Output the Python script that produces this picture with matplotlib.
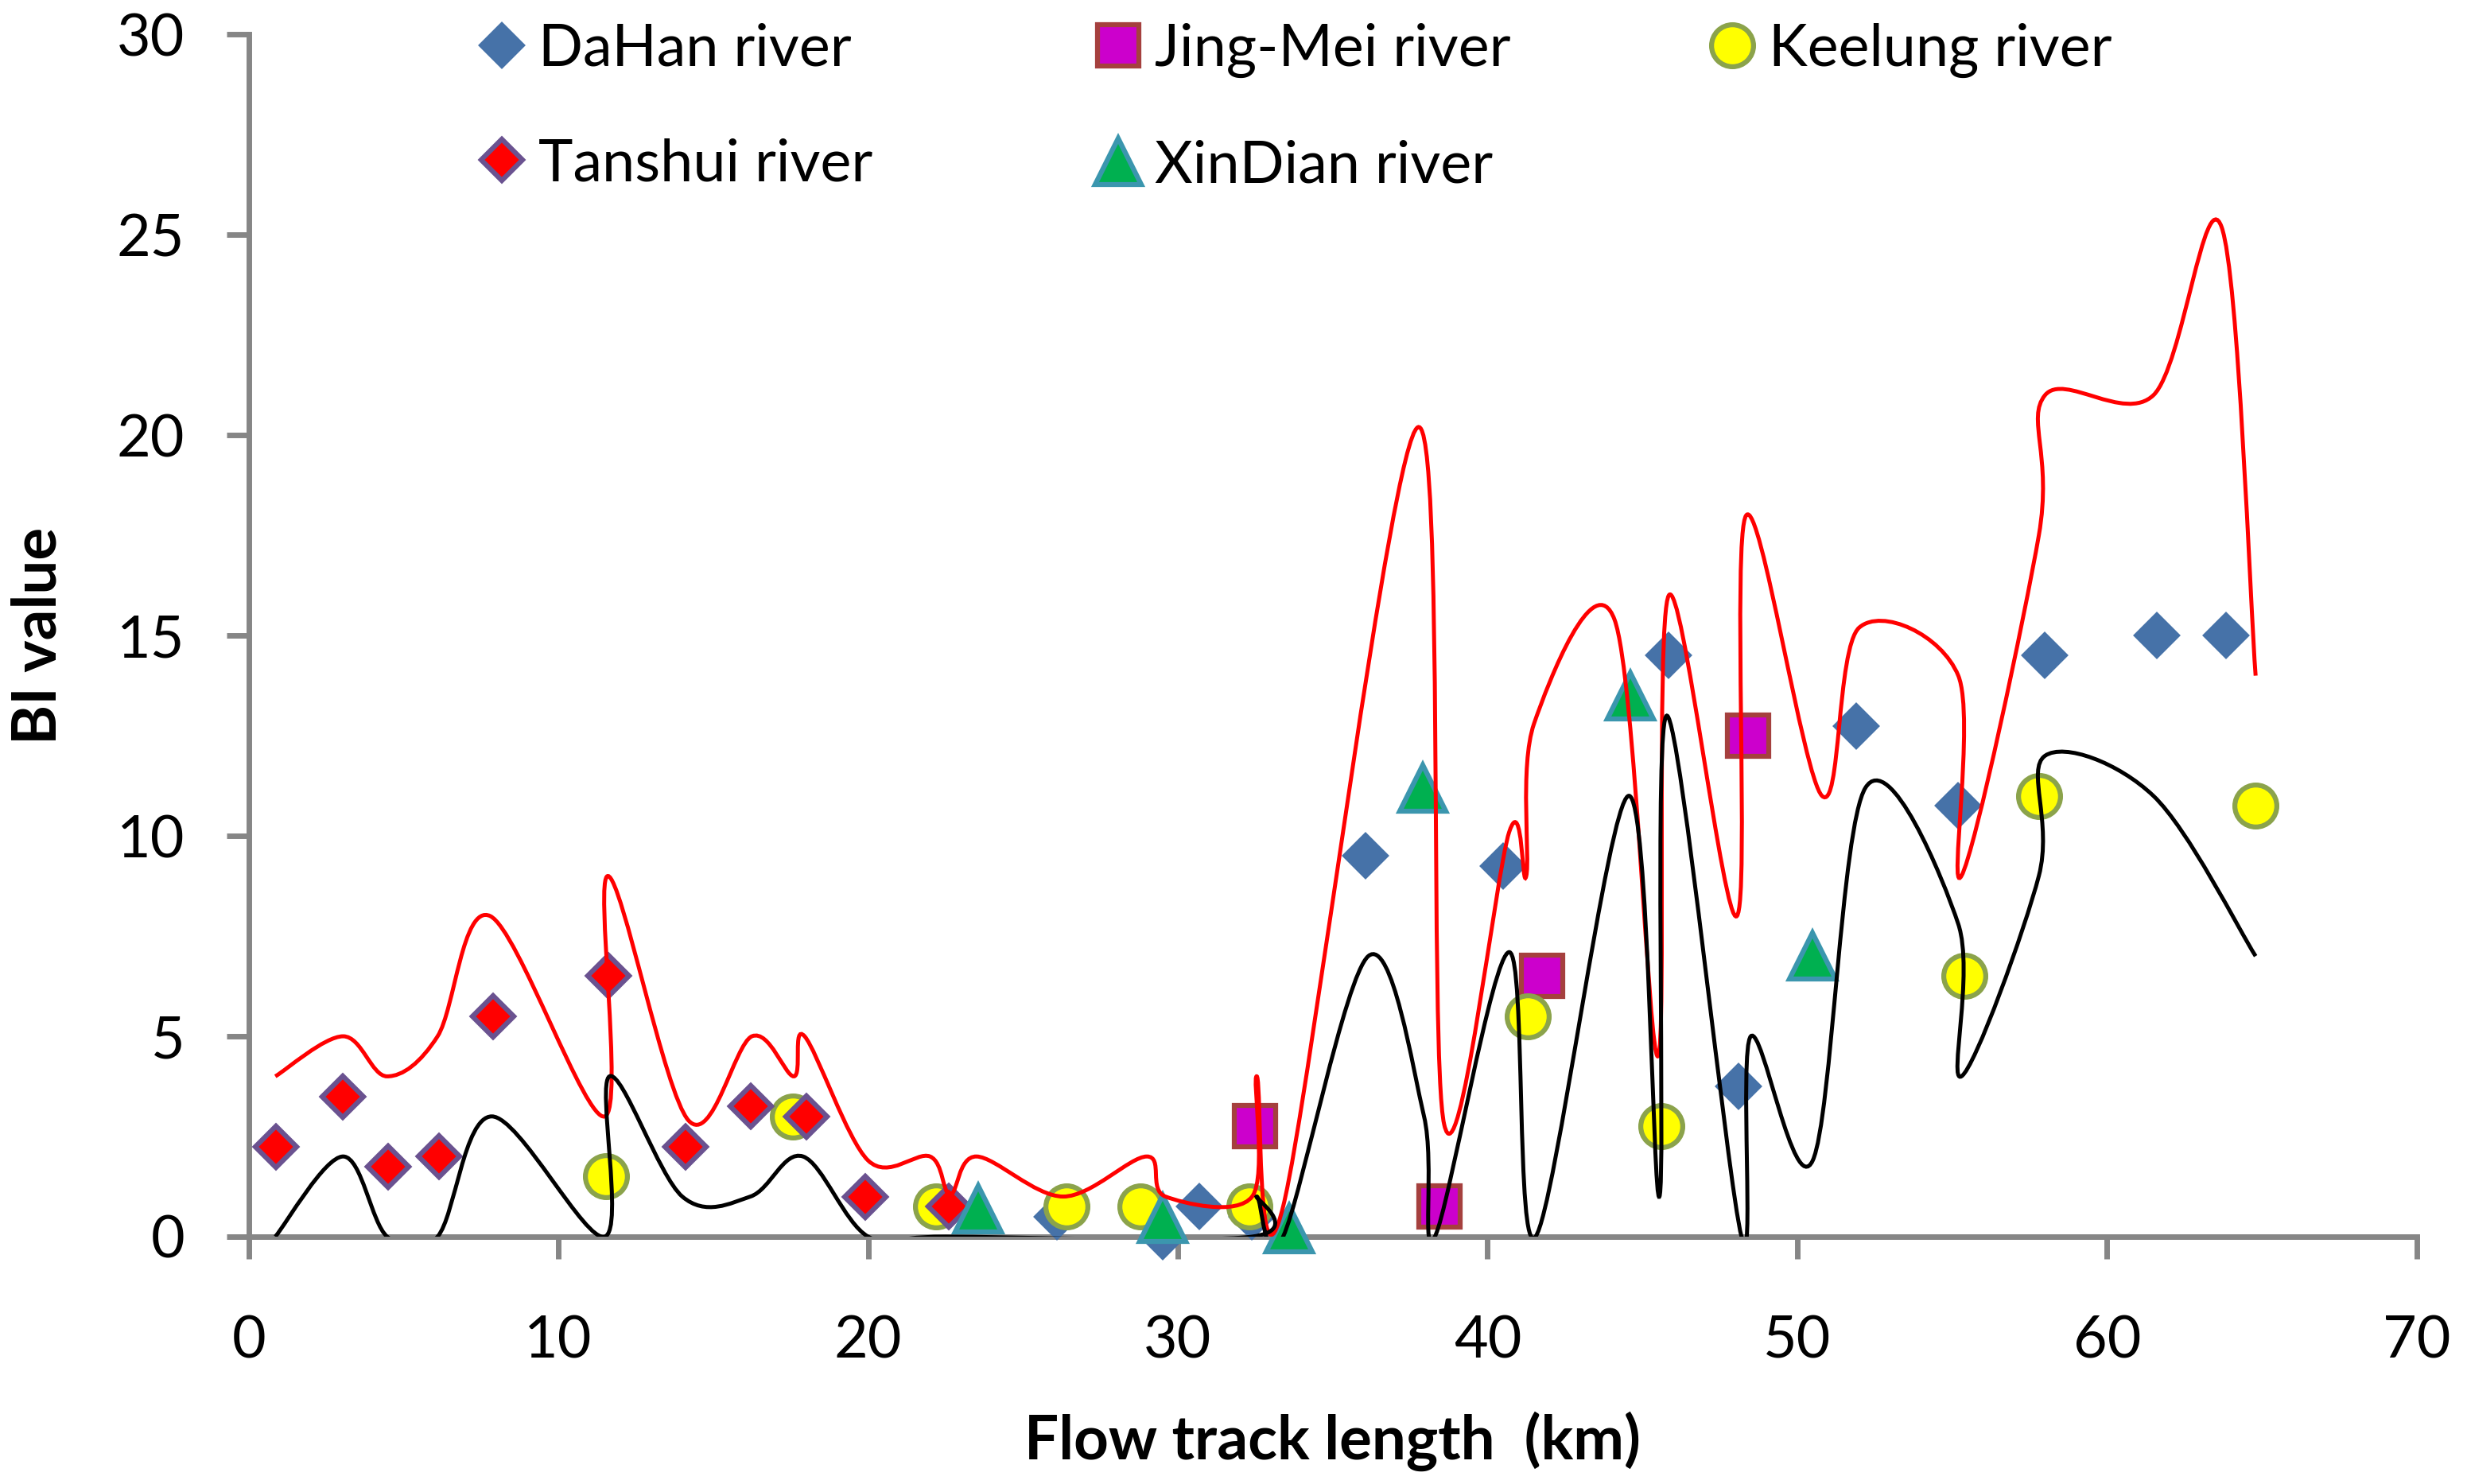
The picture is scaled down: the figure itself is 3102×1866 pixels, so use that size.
import numpy as np
import matplotlib
matplotlib.use('Agg')
from matplotlib import pyplot as plt
from matplotlib.path import Path
from matplotlib.patches import PathPatch

# scatter series (km, BI value)
dahan_x = [26.1, 29.5, 30.7, 32.4, 36.05, 40.5, 45.85, 48.1, 51.9, 55.2, 58.0, 61.6, 63.85]
dahan_y = [0.5, 0.0, 0.75, 0.5, 9.5, 9.25, 14.5, 3.75, 12.75, 10.75, 14.5, 15.0, 15.0]

jingmei_x = [32.5, 38.45, 41.75, 48.4]
jingmei_y = [2.75, 0.75, 6.5, 12.5]

keelung_x = [11.55, 17.57, 22.2, 26.4, 28.8, 32.3, 41.3, 45.6, 55.4, 57.8, 64.8]
keelung_y = [1.5, 3.0, 0.75, 0.75, 0.75, 0.75, 5.5, 2.75, 6.5, 11.0, 10.75]

tanshui_x = [0.87, 3.05, 4.5, 6.15, 7.9, 11.61, 14.1, 16.2, 18.0, 19.9, 22.6]
tanshui_y = [2.25, 3.5, 1.75, 2.0, 5.5, 6.5, 2.25, 3.25, 3.0, 1.0, 0.75]

xindian_x = [23.55, 29.5, 33.6, 37.9, 44.6, 50.5]
xindian_y = [0.7, 0.45, 0.2, 11.2, 13.5, 7.0]

# upper (red) and lower (black) envelope lines, drawn smoothed like Excel
upper_x = [0.86, 3.05, 4.47, 6.1, 7.8, 11.5, 11.6, 14.2, 16.25, 17.6, 17.95, 20.0, 22.0, 22.65,
           23.5, 26.3, 29.0, 29.6, 32.4, 32.55, 33.4, 37.75, 38.6, 40.7, 41.25, 41.5, 44.1,
           45.5, 45.85, 48.05, 48.35, 50.8, 52.0, 55.2, 55.3, 57.8, 58.0, 61.5, 63.7, 64.8]
upper_y = [4.0, 5.0, 4.0, 5.0, 8.0, 3.0, 9.0, 2.9, 5.0, 4.0, 5.0, 1.9, 2.0, 1.05,
           2.0, 1.0, 2.0, 1.0, 1.0, 4.0, 0.75, 20.2, 2.8, 10.1, 9.0, 12.8, 15.4,
           4.5, 16.0, 8.0, 18.0, 11.0, 15.2, 14.0, 9.0, 17.5, 21.0, 21.0, 25.2, 14.0]

lower_x = [0.86, 3.05, 4.47, 6.1, 7.85, 11.5, 11.65, 14.0, 16.2, 17.9, 20.0, 22.5, 32.4, 32.55,
           33.4, 36.15, 37.95, 38.3, 40.7, 41.55, 44.55, 45.55, 45.8, 48.2, 48.5, 50.5, 52.2,
           55.2, 55.3, 57.8, 58.0, 61.5, 64.8]
lower_y = [0.0, 2.0, 0.0, 0.0, 3.0, 0.0, 4.0, 1.0, 1.0, 2.0, 0.0, 0.0, 0.0, 1.0,
           0.0, 7.0, 3.0, 0.0, 7.1, 0.0, 11.0, 1.0, 13.0, 0.0, 5.0, 1.9, 11.2,
           7.8, 4.0, 9.0, 12.0, 11.0, 7.0]


def smooth_path(xs, ys):
    # cubic bezier through the points, control points from neighbours (1/6 rule)
    pts = np.column_stack([xs, ys]).astype(float)
    n = len(pts)
    verts = [pts[0]]
    codes = [Path.MOVETO]
    for i in range(n - 1):
        p0 = pts[max(i - 1, 0)]
        p1 = pts[i]
        p2 = pts[i + 1]
        p3 = pts[min(i + 2, n - 1)]
        verts += [p1 + (p2 - p0) / 6, p2 - (p3 - p1) / 6, p2]
        codes += [Path.CURVE4] * 3
    return Path(verts, codes)


plt.rcParams['font.family'] = ['Lato', 'DejaVu Sans']

fig = plt.figure(figsize=(31.02, 18.66), dpi=100)
ax = fig.add_axes([0.1008, 0.1667, 0.8788, 0.8100])

h1, = ax.plot(dahan_x, dahan_y, 'D', ms=27, mfc='#4672A8', mec='#4672A8', mew=3, label='DaHan river', clip_on=False, zorder=3)
h2, = ax.plot(jingmei_x, jingmei_y, 's', ms=38, mfc='#CC00CC', mec='#A5403E', mew=4.5, label='Jing-Mei river', clip_on=False, zorder=3)
h3, = ax.plot(keelung_x, keelung_y, 'o', ms=38, mfc='#FFFF00', mec='#8BA34B', mew=4.5, label='Keelung river', clip_on=False, zorder=3)
h4, = ax.plot(tanshui_x, tanshui_y, 'D', ms=26, mfc='#FF0000', mec='#6A5290', mew=4.5, label='Tanshui river', clip_on=False, zorder=3)
h5, = ax.plot(xindian_x, xindian_y, '^', ms=42, mfc='#00B050', mec='#3B96AE', mew=4.5, label='XinDian river', clip_on=False, zorder=3)

ax.add_patch(PathPatch(smooth_path(upper_x, upper_y), fc='none', ec='#FF0000', lw=3.6, zorder=5))
ax.add_patch(PathPatch(smooth_path(lower_x, lower_y), fc='none', ec='black', lw=3.6, zorder=5))

ax.set_xlim(0, 70)
ax.set_ylim(0, 30)
ax.set_xticks(range(0, 71, 10))
ax.set_yticks(range(0, 31, 5))

for s in ['top', 'right']:
    ax.spines[s].set_visible(False)
for s in ['left', 'bottom']:
    ax.spines[s].set_color('#868686')
    ax.spines[s].set_linewidth(5)
ax.tick_params(axis='both', direction='out', length=20, width=5, color='#868686', labelsize=53)
ax.tick_params(axis='x', pad=51)
ax.tick_params(axis='y', pad=38)

ax.set_xlabel('Flow track length  (km)', fontsize=55, fontweight='bold', va='baseline')
ax.xaxis.set_label_coords(0.5, (1555 - 1835) / 1511.5)
ax.set_ylabel('BI value', fontsize=55, fontweight='bold', va='baseline')
ax.yaxis.set_label_coords((70 - 312.6) / 2726, 0.5)

# legend: first two columns, then Keelung as its own third column
leg_kw = dict(loc='upper left', bbox_transform=fig.transFigure, frameon=False, fontsize=53, numpoints=1,
              handlelength=0.8, handletextpad=0.22, columnspacing=3.8, labelspacing=1.05, borderpad=0)
leg1 = ax.legend(handles=[h1, h4, h2, h5], ncol=2, bbox_to_anchor=(565 / 3102, 1 + 8 / 1866), **leg_kw)
ax.add_artist(leg1)
ax.legend(handles=[h3], ncol=1, bbox_to_anchor=(2112 / 3102, 1 + 8 / 1866), **leg_kw)

fig.savefig('out.png', dpi=100)
